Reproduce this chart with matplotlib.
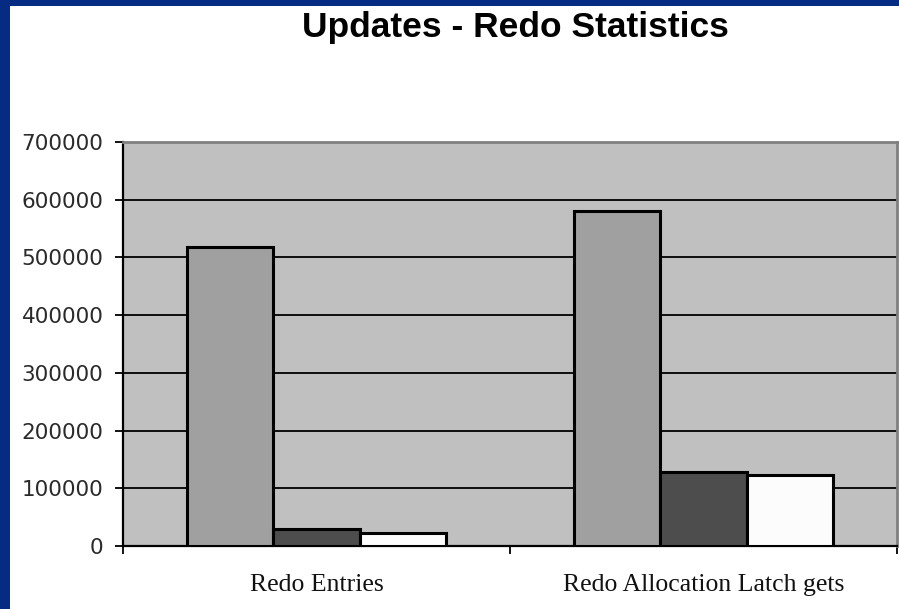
import matplotlib
matplotlib.use("Agg")
import matplotlib.pyplot as plt
from matplotlib.patches import Rectangle
import numpy as np

# Redo statistics for the update test, three runs per metric
categories = ["Redo Entries", "Redo Allocation Latch gets"]
run_a = [518000, 581000]
run_b = [30000, 129000]
run_c = [23000, 123000]
y_ticks = [0, 100000, 200000, 300000, 400000, 500000, 600000, 700000]

W, H = 899, 609
fig = plt.figure(figsize=(W / 100, H / 100), dpi=100)
fig.patch.set_facecolor("white")

# slide frame: blue strip along the top and left
fig.patches.append(Rectangle((0, 1 - 6 / H), 1, 6 / H, transform=fig.transFigure,
                             facecolor="#062b82", edgecolor="none", zorder=0))
fig.patches.append(Rectangle((0, 0), 10 / W, 1, transform=fig.transFigure,
                             facecolor="#062b82", edgecolor="none", zorder=0))

ax = fig.add_axes([123 / W, (H - 546) / H, 774 / W, 404 / H])
ax.set_facecolor("#c0c0c0")

x = np.arange(len(categories))
w = 0.2235
bar_kw = dict(edgecolor="black", linewidth=2.2, zorder=3)
ax.bar(x - w, run_a, w, color="#a0a0a0", **bar_kw)
ax.bar(x, run_b, w, color="#4d4d4d", **bar_kw)
ax.bar(x + w, run_c, w, color="#fcfcfc", **bar_kw)

ax.set_xlim(-0.5, len(categories) - 0.5)
ax.set_ylim(0, 700000)

ax.set_yticks(y_ticks)
ax.set_yticklabels([str(v) for v in y_ticks], fontsize=15.5,
                   family="DejaVu Sans", color="#2a2a2a")
ax.yaxis.grid(True, color="black", linewidth=1.3, zorder=1)
ax.set_axisbelow(True)
ax.tick_params(axis="y", direction="out", length=6, width=1.3, pad=8)

# category separators as major ticks, names on minor ticks
ax.set_xticks(np.arange(len(categories) + 1) - 0.5)
ax.set_xticklabels([])
ax.set_xticks(x, minor=True)
ax.set_xticklabels(categories, minor=True, fontsize=18.5,
                   family="Liberation Serif", color="#111111")
ax.tick_params(axis="x", which="major", direction="out", length=6, width=1.3)
ax.tick_params(axis="x", which="minor", length=0, pad=20)

for side in ("left", "bottom"):
    ax.spines[side].set_color("black")
    ax.spines[side].set_linewidth(1.6)
for side in ("top", "right"):
    ax.spines[side].set_color("#808080")
    ax.spines[side].set_linewidth(2)

fig.text(515 / W, 1 - 28 / H, "Updates - Redo Statistics", ha="center",
         va="center", fontsize=25.5, fontweight="bold", family="Liberation Sans")

fig.savefig("out.png", dpi=100)
